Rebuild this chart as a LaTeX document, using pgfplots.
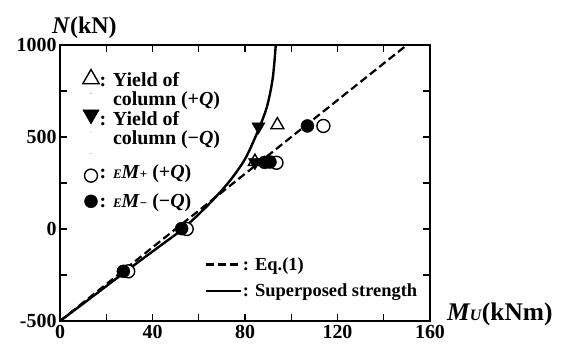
\documentclass[border=0pt]{standalone}
\usepackage{fontspec}
\setmainfont{Liberation Serif}
\usepackage{pgfplots}
\pgfplotsset{compat=1.18}
\newcommand{\lf}{\bfseries\fontsize{20}{17}\selectfont}
\newcommand{\two}[2]{\begin{tabular}{@{}l@{}}\lf #1\\\lf #2\end{tabular}}
\begin{document}
\begin{tikzpicture}
\begin{axis}[
  name=ax,
  scale only axis,
  width=370bp, height=276bp,
  xmin=0, xmax=160, ymin=-500, ymax=1000,
  xtick={0,40,80,120,160}, xticklabels={0,40,80,120,160},
  minor xtick={20,60,100,140},
  ytick={-500,0,500,1000}, yticklabels={-500,0,500,1000},
  minor ytick={-250,250,750},
  tick align=inside,
  major tick length=7bp, minor tick length=7bp,
  every tick/.style={black, line width=1.2bp},
  axis line style={line width=1.6bp},
  tick label style={font=\bfseries\fontsize{20}{24}\selectfont},
  xticklabel style={yshift=-1bp},
  clip=false,
  legend style={at={(rel axis cs:0.061,0.912)}, anchor=north west, draw=none, fill=none,
    font=\lf, row sep=11bp, inner sep=0pt,
    cells={anchor=west}, nodes={inner sep=0.5bp}},
  legend cell align=left,
]
% lines
\addplot[black, line width=2.2bp, dash pattern=on 8bp off 4bp, forget plot] coordinates {(0,-500) (150,1000)};
\addplot[black, line width=2.4bp, smooth, tension=0.5, forget plot] coordinates {
(0,-500) (14,-368) (28.5,-230) (41,-113) (53,0) (64,130) (73,255) (80,380) (85.5,530) (89.5,665) (92,820) (93.3,1000)};
% open triangles (+Q yield)
\addplot[only marks, mark=triangle*, mark size=7.5bp, mark options={fill=white, draw=black, line width=1.4bp}, forget plot] coordinates {(94,565) (84.3,366)};
% filled down triangles (-Q yield)
\addplot[only marks, mark=triangle*, mark size=7.5bp, mark options={rotate=180, fill=black, draw=black}, forget plot] coordinates {(85.8,556) (84.3,362)};
% open circles
\addplot[only marks, mark=*, mark size=6.5bp, mark options={fill=white, draw=black, line width=1.4bp}, forget plot] coordinates {(29.5,-230) (54.8,0) (93.6,360) (113.9,560)};
% filled circles
\addplot[only marks, mark=*, mark size=6.5bp, mark options={fill=black, draw=black}, forget plot] coordinates {(27.4,-230) (52.6,2) (88.5,362) (90.8,364) (107,560)};
% legend images
\addlegendimage{legend image code/.code={\path (8.5bp,-8bp) circle (0.1bp); \draw[mark=triangle*, mark size=9.5bp, mark options={fill=white, draw=black, line width=1.4bp}] plot coordinates {(8.5bp,6.5bp)};}}
\addlegendentry{\two{: Yield of}{\hphantom{: }column (+\textit{Q})}}
\addlegendimage{legend image code/.code={\path (8.5bp,-8bp) circle (0.1bp); \draw[mark=triangle*, mark size=9.5bp, mark options={rotate=180, fill=black, draw=black}] plot coordinates {(8.5bp,9.5bp)};}}
\addlegendentry{\two{: Yield of}{\hphantom{: }column (−\textit{Q})}}
\addlegendimage{legend image code/.code={\path (8.5bp,11bp) circle (0.1bp); \draw[mark=*, mark size=6.5bp, mark options={fill=white, draw=black, line width=1.4bp}] plot coordinates {(8.5bp,-11bp)};}}
\addlegendentry{\lf\rule{0pt}{30bp}: {\fontsize{13}{13}\selectfont\textit{E}}\textit{M}{\fontsize{13}{13}\selectfont+} (+\textit{Q})}
\addlegendimage{legend image code/.code={\draw[mark=*, mark size=6.5bp, mark options={fill=black, draw=black}] plot coordinates {(8.5bp,0bp)};}}
\addlegendentry{\lf : {\fontsize{13}{13}\selectfont\textit{E}}\textit{M}{\fontsize{13}{13}\selectfont−} (−\textit{Q})}
\end{axis}
\begin{axis}[
  scale only axis, hide axis,
  width=370bp, height=276bp,
  xmin=0, xmax=160, ymin=-500, ymax=1000,
  legend style={at={(rel axis cs:0.39,0.235)}, anchor=north west, draw=none, fill=none,
    font=\bfseries\fontsize{18.5}{18.5}\selectfont, row sep=10bp, inner sep=0pt,
    cells={anchor=west}, nodes={inner sep=1bp}},
  legend cell align=left,
  legend image code/.code={\draw[#1] (0bp,0bp) -- (35bp,0bp);},
]
\addlegendimage{black, line width=2.2bp, dash pattern=on 8bp off 4bp}
\addlegendentry{: Eq.(1)}
\addlegendimage{black, line width=2.4bp}
\addlegendentry{: Superposed strength}
\end{axis}
\node[anchor=base west, font=\bfseries\fontsize{24}{24}\selectfont, inner sep=0pt] at ([xshift=-8bp,yshift=11bp]ax.north west) {\textit{N}(kN)};
\node[anchor=base west, font=\bfseries\fontsize{25.5}{25.5}\selectfont, inner sep=0pt] at ([xshift=17bp,yshift=1bp]ax.south east) {\textit{M{\fontsize{16}{16}\selectfont U}}(kNm)};
\pgfresetboundingbox
\path ([shift={(-60bp,-28bp)}]ax.south west) rectangle ([shift={(137bp,45bp)}]ax.north east);
\end{tikzpicture}
\end{document}
